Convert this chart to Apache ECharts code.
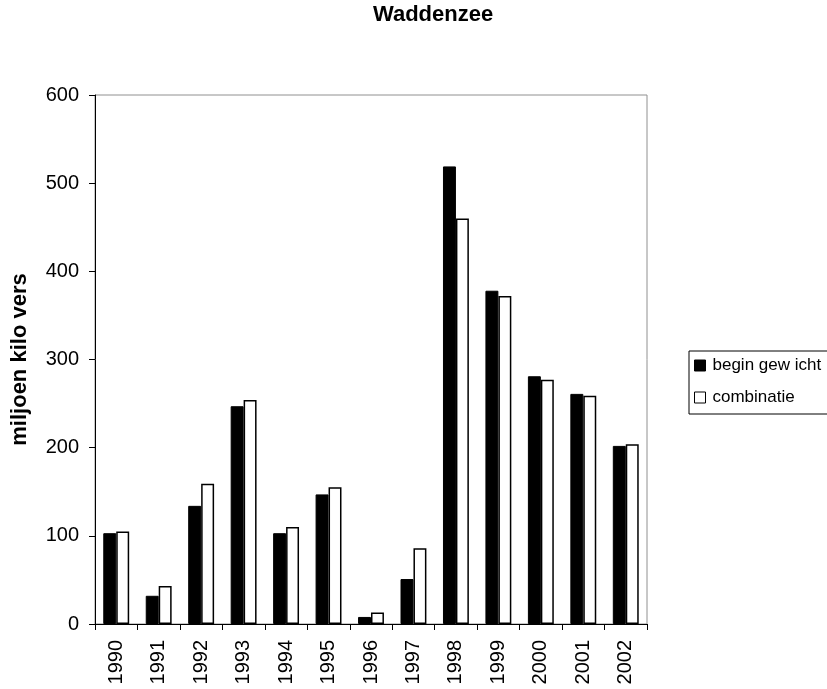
<!DOCTYPE html>
<html>
<head>
<meta charset="utf-8">
<script src="https://cdn.jsdelivr.net/npm/echarts@6/dist/echarts.min.js"></script>
<style>
  html, body { margin: 0; padding: 0; background: #fff; }
  #chart { width: 827px; height: 689px; }
</style>
</head>
<body>
<div id="chart"></div>
<script>
// Years on the category axis
var years = ['1990', '1991', '1992', '1993', '1994', '1995', '1996', '1997', '1998', '1999', '2000', '2001', '2002'];
// Stock estimates in million kg fresh weight
var beginGewicht = [103, 32, 134, 247, 103, 147, 8, 51, 519, 378, 281, 261, 202];
var combinatie = [105, 43, 159, 254, 110, 155, 13, 86, 460, 372, 277, 259, 204];
// Value axis ticks
var yTicks = [0, 100, 200, 300, 400, 500, 600];

var font = 'Liberation Sans, Arial, sans-serif';
var chart = echarts.init(document.getElementById('chart'), null, { renderer: 'canvas' });

chart.setOption({
  animation: false,
  backgroundColor: '#ffffff',
  title: {
    text: 'Waddenzee',
    left: 373,
    top: 4,
    padding: 0,
    textStyle: { fontFamily: font, fontSize: 22, fontWeight: 'bold', color: '#000' }
  },
  legend: {
    orient: 'vertical',
    left: 689,
    top: 351,
    icon: 'rect',
    itemWidth: 11,
    itemHeight: 11,
    itemGap: 15,
    padding: [6, 60, 8, 5],
    borderColor: '#000',
    borderWidth: 1,
    textStyle: { fontFamily: font, fontSize: 17, color: '#000', padding: [0, 0, 0, 2] },
    data: [
      { name: 'begin gew icht', itemStyle: { color: '#000', borderColor: '#000', borderWidth: 1 } },
      { name: 'combinatie', itemStyle: { color: '#fff', borderColor: '#000', borderWidth: 1 } }
    ]
  },
  grid: {
    left: 95,
    right: 180,
    top: 95,
    bottom: 65,
    show: true,
    borderColor: '#909090',
    borderWidth: 1
  },
  xAxis: {
    type: 'category',
    data: years,
    boundaryGap: true,
    axisLine: { lineStyle: { color: '#000', width: 1 } },
    axisTick: { show: true, alignWithLabel: false, length: 6, lineStyle: { color: '#000' } },
    axisLabel: {
      rotate: 90,
      margin: 16,
      fontFamily: font,
      fontSize: 20,
      color: '#000'
    }
  },
  yAxis: {
    type: 'value',
    min: yTicks[0],
    max: yTicks[yTicks.length - 1],
    interval: 100,
    name: 'miljoen kilo vers',
    nameLocation: 'middle',
    nameGap: 64,
    nameTextStyle: { fontFamily: font, fontSize: 22, fontWeight: 'bold', color: '#000' },
    axisLine: { show: true, lineStyle: { color: '#000', width: 1 } },
    axisTick: { show: true, length: 6, lineStyle: { color: '#000' } },
    splitLine: { show: false },
    axisLabel: { margin: 16, fontFamily: font, fontSize: 20, color: '#000' }
  },
  series: [
    {
      name: 'begin gew icht',
      type: 'bar',
      data: beginGewicht,
      barGap: '0%',
      barCategoryGap: '39%',
      itemStyle: { color: '#000', borderColor: '#000', borderWidth: 1 }
    },
    {
      name: 'combinatie',
      type: 'bar',
      data: combinatie,
      barGap: '0%',
      barCategoryGap: '39%',
      itemStyle: { color: '#fff', borderColor: '#000', borderWidth: 1.5 }
    }
  ]
});
</script>
</body>
</html>
